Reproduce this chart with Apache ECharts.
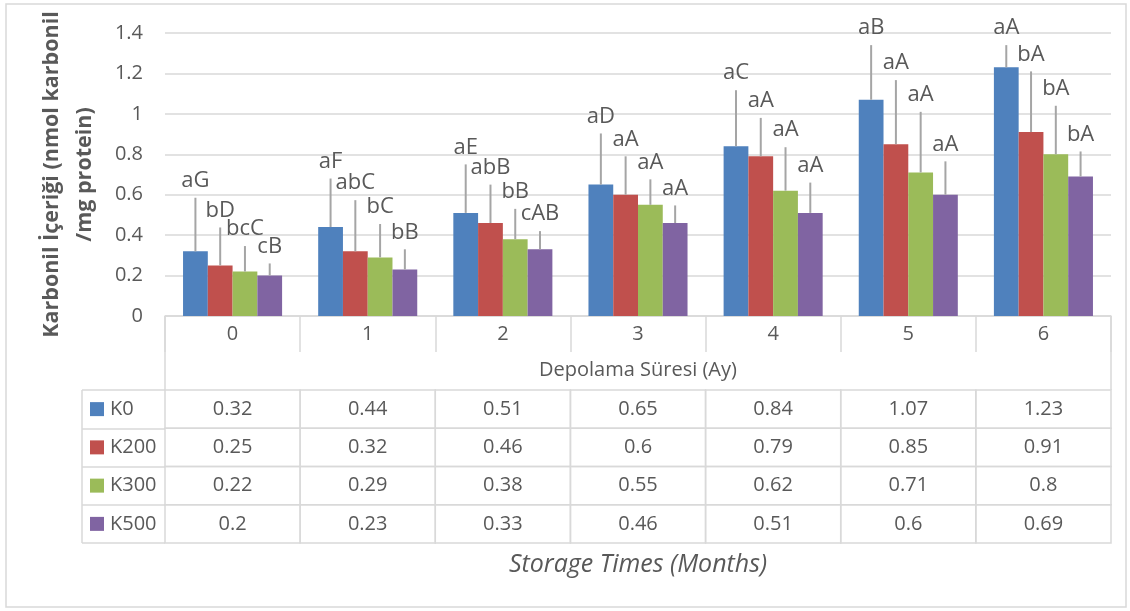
<!DOCTYPE html>
<html>
<head>
<meta charset="utf-8">
<script src="https://cdn.jsdelivr.net/npm/echarts@6/dist/echarts.min.js"></script>
<style>html,body{margin:0;padding:0;background:#fff;}#c{width:1130px;height:611px;}</style>
</head>
<body>
<div id="c"></div>
<script>
const categories = ['0', '1', '2', '3', '4', '5', '6'];
const seriesNames = ['K0', 'K200', 'K300', 'K500'];
const k0 = [0.32, 0.44, 0.51, 0.65, 0.84, 1.07, 1.23];
const k200 = [0.25, 0.32, 0.46, 0.6, 0.79, 0.85, 0.91];
const k300 = [0.22, 0.29, 0.38, 0.55, 0.62, 0.71, 0.8];
const k500 = [0.2, 0.23, 0.33, 0.46, 0.51, 0.6, 0.69];
const k0Err = [0.265, 0.24, 0.24, 0.253, 0.277, 0.27, 0.11];
const k200Err = [0.188, 0.253, 0.19, 0.19, 0.19, 0.317, 0.30];
const k300Err = [0.126, 0.165, 0.15, 0.126, 0.215, 0.30, 0.24];
const k500Err = [0.06, 0.10, 0.09, 0.087, 0.15, 0.165, 0.124];
const k0Letters = ['aG', 'aF', 'aE', 'aD', 'aC', 'aB', 'aA'];
const k200Letters = ['bD', 'abC', 'abB', 'aA', 'aA', 'aA', 'bA'];
const k300Letters = ['bcC', 'bC', 'bB', 'aA', 'aA', 'aA', 'bA'];
const k500Letters = ['cB', 'bB', 'cAB', 'aA', 'aA', 'aA', 'bA'];
const yMin = 0, yMax = 1.4, yInterval = 0.2;

const values = [k0, k200, k300, k500];
const errors = [k0Err, k200Err, k300Err, k500Err];
const letters = [k0Letters, k200Letters, k300Letters, k500Letters];
const colors = ['#4f81bd', '#c0504d', '#9bbb59', '#8064a2'];
const FONT = '"Open Sans", sans-serif';
const TXT = '#595959';
const LINE = '#d9d9d9';
const CAT_GAP = 0.267;

const chart = echarts.init(document.getElementById('c'), null, {renderer: 'canvas'});

const series = [];
values.forEach((vals, si) => {
  series.push({
    type: 'bar', name: seriesNames[si], data: vals,
    xAxisIndex: 0, yAxisIndex: 0,
    barGap: '0%', barCategoryGap: (CAT_GAP * 100) + '%',
    itemStyle: {color: colors[si]},
    emphasis: {disabled: true}, silent: true
  });
});
values.forEach((vals, si) => {
  series.push({
    type: 'custom', xAxisIndex: 0, yAxisIndex: 0, clip: false, silent: true, z: 3,
    data: vals.map((v, i) => [i, v, errors[si][i]]),
    encode: {x: 0, y: 1},
    renderItem: function (params, api) {
      const ci = api.value(0), v = api.value(1), e = api.value(2);
      const band = api.size([1, 0])[0];
      const total = band * (1 - CAT_GAP);
      const bw = total / 4;
      const cx = api.coord([ci, 0])[0] - total / 2 + bw * (si + 0.5);
      const yb = api.coord([ci, v])[1];
      const yt = api.coord([ci, v + e])[1];
      return {
        type: 'group', children: [
          {type: 'line', shape: {x1: cx, y1: yb, x2: cx, y2: yt}, style: {stroke: '#a5a5a5', lineWidth: 2}},
          {type: 'text', style: {text: letters[si][params.dataIndex], x: cx, y: yt - 6,
            textAlign: 'center', textVerticalAlign: 'bottom', fill: TXT, font: '22px ' + FONT}}
        ]
      };
    }
  });
});
// data table cells
const tableData = [];
values.forEach((vals, r) => vals.forEach((v, c) => tableData.push([c, r])));
series.push({
  type: 'custom', xAxisIndex: 1, yAxisIndex: 1, clip: false, silent: true,
  data: tableData, encode: {x: 0, y: 1},
  renderItem: function (params, api) {
    const c = api.value(0), r = api.value(1);
    const p = api.coord([c, r]);
    const s = api.size([1, 1]);
    return {
      type: 'group', children: [
        {type: 'rect', shape: {x: p[0] - s[0] / 2, y: p[1] - s[1] / 2, width: s[0], height: s[1]},
          style: {fill: null, stroke: LINE, lineWidth: 1.5}},
        {type: 'text', style: {text: String(values[r][c]), x: p[0], y: p[1], textAlign: 'center',
          textVerticalAlign: 'middle', fill: TXT, font: '20px ' + FONT}}
      ]
    };
  }
});

const rich = {t: {fontFamily: FONT, fontSize: 20, color: TXT, padding: [0, 0, 0, 6]}};
colors.forEach((col, i) => { rich['s' + i] = {width: 14, height: 14, backgroundColor: col}; });

const option = {
  animation: false,
  textStyle: {fontFamily: FONT, color: TXT},
  grid: [
    {left: 165, right: 19, top: 33, height: 283},
    {left: 165, right: 19, top: 390, height: 153}
  ],
  xAxis: [
    {
      type: 'category', gridIndex: 0, data: categories,
      axisLine: {lineStyle: {color: LINE, width: 1.5}},
      axisTick: {show: true, length: 36, lineStyle: {color: LINE, width: 1.5}},
      axisLabel: {fontSize: 20, color: TXT, margin: 8, fontFamily: FONT},
      name: 'Depolama Süresi (Ay)', nameLocation: 'middle', nameGap: 44,
      nameTextStyle: {fontSize: 20, color: TXT, fontFamily: FONT}
    },
    {
      type: 'category', gridIndex: 1, data: categories,
      axisLine: {show: false}, axisTick: {show: false}, axisLabel: {show: false},
      name: 'Storage Times (Months)', nameLocation: 'middle', nameGap: 9,
      nameTextStyle: {fontSize: 25, color: TXT, fontFamily: FONT, fontStyle: 'italic'}
    }
  ],
  yAxis: [
    {
      type: 'value', gridIndex: 0, min: yMin, max: yMax, interval: yInterval,
      axisLine: {show: false}, axisTick: {show: false},
      splitLine: {lineStyle: {color: LINE, width: 1.5}},
      axisLabel: {fontSize: 20, color: TXT, margin: 22, fontFamily: FONT},
      name: 'Karbonil İçeriği (nmol karbonil\n/mg protein)', nameLocation: 'middle', nameGap: 64,
      nameRotate: 90,
      nameTextStyle: {fontSize: 21.5, fontWeight: 'bold', color: TXT, fontFamily: FONT, lineHeight: 33, align: 'center'}
    },
    {
      type: 'category', gridIndex: 1, data: seriesNames, inverse: true,
      axisLine: {show: false},
      axisTick: {show: true, length: 83, lineStyle: {color: LINE, width: 1.5}},
      axisLabel: {margin: 75, align: 'left', formatter: (v, i) => '{s' + i + '|}{t|' + v + '}', rich: rich},
      splitLine: {show: false}
    }
  ],
  graphic: [
    {type: 'rect', shape: {x: 6, y: 4, width: 1120, height: 603}, style: {fill: null, stroke: LINE, lineWidth: 1.5}, silent: true},
    {type: 'line', shape: {x1: 82, y1: 390, x2: 82, y2: 543}, style: {stroke: LINE, lineWidth: 1.5}, silent: true},
    {type: 'line', shape: {x1: 165, y1: 316, x2: 165, y2: 390}, style: {stroke: LINE, lineWidth: 1.5}, silent: true},
    {type: 'line', shape: {x1: 1111, y1: 316, x2: 1111, y2: 390}, style: {stroke: LINE, lineWidth: 1.5}, silent: true}
  ],
  series: series
};
chart.setOption(option);
</script>
</body>
</html>
